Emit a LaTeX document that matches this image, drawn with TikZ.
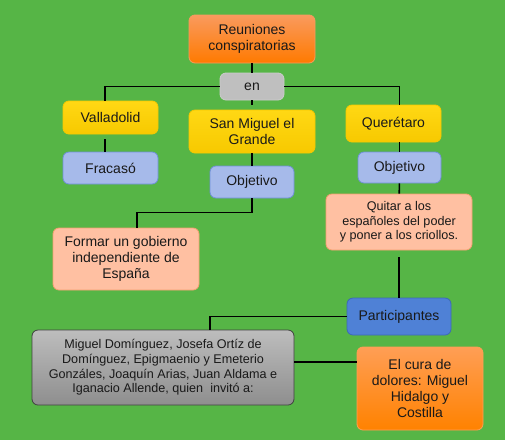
\documentclass[tikz,border=0pt]{standalone}
\usepackage{fontspec}
\setmainfont{Liberation Sans}
\usepackage{xcolor}
\definecolor{lawn}{HTML}{56B546}
\definecolor{tangerine}{HTML}{F99A5E}
\definecolor{pumpkin}{HTML}{FF7A00}
\definecolor{ember}{HTML}{FF9E55}
\definecolor{blaze}{HTML}{FF8200}
\definecolor{flint}{HTML}{BFBFBF}
\definecolor{smoke}{HTML}{BDBDBD}
\definecolor{slate}{HTML}{8E8E8E}
\definecolor{gold}{HTML}{FFD814}
\definecolor{mustard}{HTML}{F7C900}
\definecolor{periwinkle}{HTML}{A6BAEA}
\definecolor{cornflower}{HTML}{7090DA}
\definecolor{salmon}{HTML}{FFC0A2}
\definecolor{coral}{HTML}{F5A070}
\definecolor{royal}{HTML}{4F81D6}
\definecolor{navy}{HTML}{3C68B8}

\tikzset{
	box/.style={rounded corners=6pt, align=center, inner sep=0pt, line width=.8pt, text=black!90,
		font=\fontsize{14}{16}\selectfont},
	small/.style={font=\fontsize{12.6}{14.7}\selectfont},
	link/.style={line width=1.6pt, black}
}

\begin{document}
\begin{tikzpicture}[x=1pt, y=-1pt]
	\useasboundingbox (0,0) rectangle (505,440);
	\fill[lawn] (0,0) rectangle (505,440);

	% top of the map
	\node[box, draw=tangerine, top color=tangerine, bottom color=pumpkin, minimum width=126pt, minimum height=48pt]
		(reun) at (252,39) {Reuniones\\conspiratorias};
	\node[box, draw=flint!80, fill=flint, minimum width=64pt, minimum height=27pt]
		(en) at (252,86.5) {en};

	% places
	\node[box, draw=mustard, top color=gold, bottom color=mustard, minimum width=95pt, minimum height=33pt]
		(valla) at (110.5,117.5) {Valladolid};
	\node[box, draw=mustard, top color=gold, bottom color=mustard, minimum width=126pt, minimum height=43pt]
		(sanm) at (252,131.5) {San Miguel el\\Grande};
	\node[box, draw=mustard, top color=gold, bottom color=mustard, minimum width=95pt, minimum height=37pt]
		(quer) at (393.5,123.5) {Querétaro};

	% results
	\node[box, draw=cornflower, fill=periwinkle, minimum width=95pt, minimum height=32pt]
		(fracaso) at (110.5,168) {Fracasó};
	\node[box, draw=cornflower, fill=periwinkle, minimum width=84pt, minimum height=32pt]
		(sobj) at (252,182) {Objetivo};
	\node[box, draw=cornflower, fill=periwinkle, minimum width=83pt, minimum height=31pt]
		(qobj) at (399.5,167.5) {Objetivo};

	% aims
	\node[box, small, draw=coral, fill=salmon, minimum width=146pt, minimum height=56pt]
		(quitar) at (399,222) {Quitar a los\\españoles del poder\\y poner a los criollos.};
	\node[box, draw=coral, fill=salmon, minimum width=146pt, minimum height=62pt]
		(formar) at (126,259) {Formar un gobierno\\independiente de\\España};

	% people
	\node[box, draw=navy, fill=royal, minimum width=104pt, minimum height=37pt]
		(partic) at (399,316.5) {Participantes};
	\node[box, small, draw=black!75, top color=smoke, bottom color=slate, minimum width=262pt, minimum height=75pt]
		(quien) at (163,367.5) {Miguel Domínguez, Josefa Ortíz de\\Domínguez, Epigmaenio y Emeterio\\Gonzáles, Joaquín Arias, Juan Aldama e\\Iganacio Allende, quien\ \ invitó a:};
	\node[box, draw=ember, top color=ember, bottom color=blaze, minimum width=126pt, minimum height=83pt]
		(cura) at (420,388.5) {El cura de\\dolores: Miguel\\Hidalgo y\\Costilla};

	% connectors
	\draw[link] (reun) -- (en);
	\draw[link] (en.west) -| ([xshift=-5.5pt]valla.north);
	\draw[link] (en.east) -| (qobj.north |- quer.north);
	\draw[link, shorten >=5pt] (en) -- (sanm);
	\draw[link, shorten <=5pt] ([xshift=-5.5pt]valla.south) -- ([xshift=-5.5pt]fracaso.north);
	\draw[link] (sanm) -- (sobj);
	\draw[link] (qobj.north |- quer.south) -- (qobj.north);
	\draw[link] (qobj) -- (quitar);
	\draw[link] (sobj.south) -- ++(0,14) -| ([xshift=11pt]formar.north);
	\draw[link] (quitar.south) ++(0,7) -- (partic.north);
	\draw[link] (partic.west) -| ([xshift=47pt]quien.north);
	\draw[link] ([yshift=5.5pt]quien.east) -- ([yshift=5.5pt]quien.east -| cura.west);
\end{tikzpicture}
\end{document}
